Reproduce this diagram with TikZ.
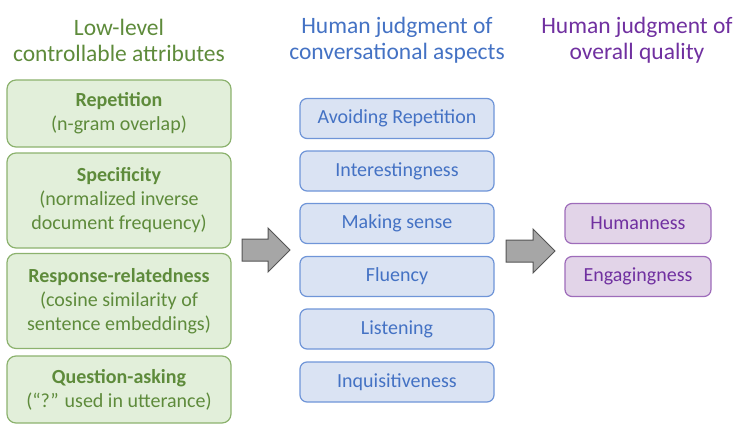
\documentclass[tikz,border=0pt]{standalone}
\usepackage{fontspec}
\setmainfont{Carlito}
\usetikzlibrary{shapes.arrows}
\definecolor{gtext}{HTML}{5E8B3B}
\definecolor{gfill}{HTML}{E2EFDA}
\definecolor{gdraw}{HTML}{8CB26E}
\definecolor{btext}{HTML}{4472C4}
\definecolor{bfill}{HTML}{DAE3F3}
\definecolor{bdraw}{HTML}{6F95D8}
\definecolor{ptext}{HTML}{7030A0}
\definecolor{pfill}{HTML}{E2D4E8}
\definecolor{pdraw}{HTML}{9E6CBA}
\definecolor{afill}{HTML}{A6A6A6}
\definecolor{adraw}{HTML}{555555}
\tikzset{
  gbox/.style={draw=gdraw, fill=gfill, line width=1.2pt, rounded corners=9pt, minimum width=224pt, align=center, text=gtext, font=\fontsize{20}{24}\selectfont, inner sep=0pt},
  bbox/.style={draw=bdraw, fill=bfill, line width=1.2pt, rounded corners=7pt, minimum width=194pt, minimum height=40pt, align=center, text=btext, font=\fontsize{20}{24}\selectfont, inner sep=0pt},
  pbox/.style={draw=pdraw, fill=pfill, line width=1.2pt, rounded corners=7pt, minimum width=146pt, minimum height=40pt, align=center, text=ptext, font=\fontsize{20}{24}\selectfont, inner sep=0pt},
  title/.style={align=center, font=\fontsize{23.5}{26}\selectfont},
  bigarrow/.style={draw=adraw, fill=afill, line width=1pt}
}
\begin{document}
\begin{tikzpicture}[x=1pt,y=-1pt]
\useasboundingbox (0,0) rectangle (742,428);
% titles
\node[title, text=gtext] (t1) at (119,40) {Low-level\\controllable attributes};
\node[title, text=btext] (t2) at (397,40) {Human judgment of\\conversational aspects};
\node[title, text=ptext] (t3) at (637,40) {Human judgment of\\overall quality};
% green boxes
\node[gbox, minimum height=67pt] (g1) at (119,113.5) {\textbf{Repetition}\\(n-gram overlap)};
\node[gbox, minimum height=95pt] (g2) at (119,200.5) {\textbf{Specificity}\\(normalized inverse\\document frequency)};
\node[gbox, minimum height=95pt] (g3) at (119,301) {\textbf{Response-relatedness}\\(cosine similarity of\\sentence embeddings)};
\node[gbox, minimum height=67pt] (g4) at (119,389.5) {\textbf{Question-asking}\\(“?” used in utterance)};
% blue boxes
\node[bbox] (b1) at (397,118.5) {Avoiding Repetition};
\node[bbox] (b2) at (397,171) {Interestingness};
\node[bbox] (b3) at (397,223.5) {Making sense};
\node[bbox] (b4) at (397,276.5) {Fluency};
\node[bbox] (b5) at (397,329) {Listening};
\node[bbox] (b6) at (397,382) {Inquisitiveness};
% purple boxes
\node[pbox] (p1) at (638,223.5) {Humanness};
\node[pbox] (p2) at (638,276.5) {Engagingness};
% arrows
\draw[bigarrow] (242,239) -- (268,239) -- (268,228) -- (290,250) -- (268,272) -- (268,261) -- (242,261) -- cycle;
\draw[bigarrow] (506,240) -- (533,240) -- (533,229) -- (555,251) -- (533,273) -- (533,262) -- (506,262) -- cycle;
\end{tikzpicture}
\end{document}
